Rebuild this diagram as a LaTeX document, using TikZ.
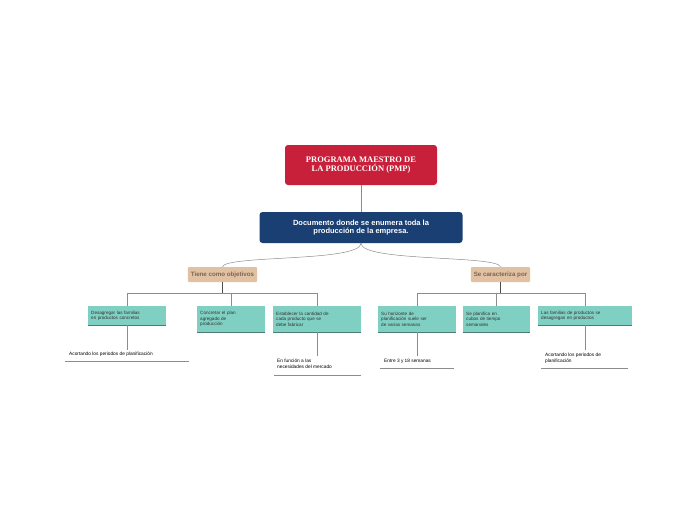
\documentclass[tikz,border=0pt]{standalone}
\usepackage{fontspec}
\setmainfont{Liberation Sans}
\newfontfamily\titlefont{Liberation Serif}
\usetikzlibrary{positioning,calc}
\definecolor{pmpred}{HTML}{C8203A}
\definecolor{pmpnavy}{HTML}{1A3F73}
\definecolor{pmptan}{HTML}{E2C0A2}
\definecolor{pmptantext}{HTML}{7A6656}
\definecolor{pmpteal}{HTML}{7FCFC2}
\definecolor{pmpline}{HTML}{8C8C8C}
\tikzset{
  titlebox/.style={fill=pmpred, rounded corners=3pt, text=white, font=\titlefont\bfseries\fontsize{8.5}{9.5}\selectfont, align=center, minimum width=152pt, minimum height=40pt},
  docbox/.style={fill=pmpnavy, rounded corners=3pt, text=white, font=\bfseries\fontsize{7.5}{8.5}\selectfont, align=center, minimum width=203pt, minimum height=31pt},
  tanbox/.style={fill=pmptan, rounded corners=1pt, text=pmptantext, font=\bfseries\fontsize{6.2}{7}\selectfont, minimum height=15pt, inner sep=3pt},
  tealbox/.style={fill=pmpteal, text=black!80, font=\fontsize{4.6}{5.6}\selectfont, align=left, anchor=north west, inner sep=3pt, minimum height=#1},
  tealbox/.default=26pt,
  leaf/.style={font=\fontsize{4.8}{6}\selectfont, align=left, anchor=north west, inner sep=1pt},
  link/.style={draw=pmpline, line width=0.5pt},
}
\begin{document}
\begin{tikzpicture}[x=1pt,y=-1pt]
\useasboundingbox (0,0) rectangle (697,520);
% main nodes
\node[titlebox] (title) at (361,165) {PROGRAMA MAESTRO DE\\LA PRODUCCIÓN (PMP)};
\node[docbox] (doc) at (361,227.5) {Documento donde se enumera toda la\\producción de la empresa.};
\node[tanbox] (obj) at (222.5,274.5) {Tiene como objetivos};
\node[tanbox] (car) at (500.5,274.5) {Se caracteriza por};

% teal items
\node[tealbox=19pt, text width=72pt] (a1) at (88,306) {Desagregar las familias\\en productos concretos};
\node[tealbox, text width=62pt] (a2) at (197,306) {Concretar el plan\\agregado de\\producción};
\node[tealbox, text width=82pt] (a3) at (273,306) {Establecer la cantidad de\\cada producto que se\\debe fabricar};
\node[tealbox, text width=72pt] (b1) at (378,306) {Su horizonte de\\planificación suele ser\\de varias semanas};
\node[tealbox, text width=61pt] (b2) at (463,306) {Se planifica en\\cubos de tiempo\\semanales};
\node[tealbox=19pt, text width=88pt] (b3) at (538,306) {Las familias de productos se\\desagregan en productos};
\foreach \n in {a1,a2,a3,b1,b2,b3}
  \draw[pmpteal!60!black, line width=0.6pt] (\n.south west) -- (\n.south east);

% leaves
\node[leaf] (l1) at (68,350.5) {Acortando los periodos de planificación};
\node[leaf] (l2) at (276,357.5) {En función a las\\necesidades del mercado};
\node[leaf] (l3) at (383,357.5) {Entre 3 y 18 semanas};
\node[leaf] (l4) at (544,351.5) {Acortando los periodos de\\planificación};
\draw[link] (65,361) -- (189,361);
\draw[link] (274,375) -- (361,375);
\draw[link] (380,368) -- (454,368);
\draw[link] (541,368) -- (628,368);

% connectors
\draw[link] (title.south) -- (doc.north);
\draw[link] (doc.south) .. controls (361,262) and (225,255) .. (obj.north);
\draw[link] (doc.south) .. controls (361,262) and (497,255) .. (car.north);
\draw[black!70, line width=0.7pt] (obj.south) -- (222.5,293);
\draw[black!70, line width=0.7pt] (car.south) -- (500.5,293);
\draw[link] (127,306) |- (317,293) -- (317,306);
\draw[link] (231,293) -- (231,306);
\draw[link] (417,306) |- (585,293) -- (585,306);
\draw[link] (496,293) -- (496,306);
\coordinate (e1) at (127,350);
\coordinate (e2) at (317,356);
\coordinate (e3) at (417,356);
\coordinate (e4) at (585,350);
\draw[link] (127,325) -- (e1);
\draw[link] (317,332) -- (e2);
\draw[link] (417,332) -- (e3);
\draw[link] (585,325) -- (e4);
\end{tikzpicture}
\end{document}
